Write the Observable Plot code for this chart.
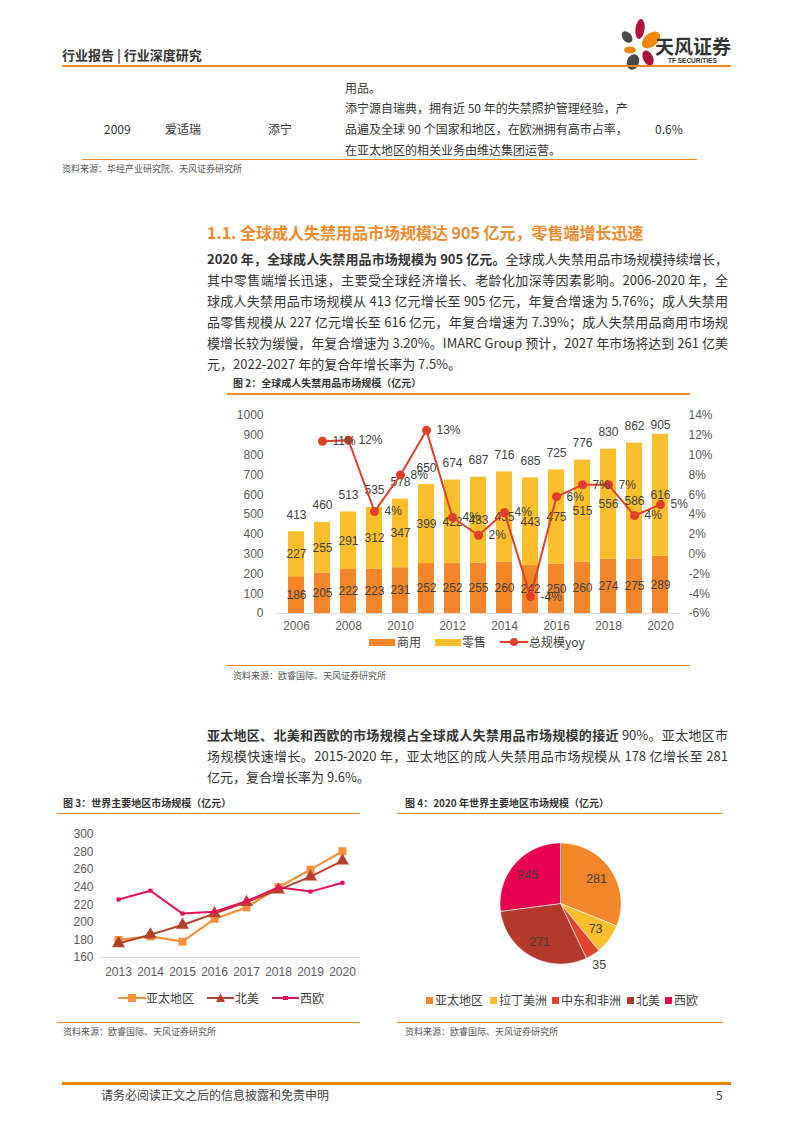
<!DOCTYPE html>
<html><head><meta charset="utf-8">
<script src="https://cdn.jsdelivr.net/npm/d3@7"></script>
<script src="https://cdn.jsdelivr.net/npm/@observablehq/plot@0.6"></script>
<style>
body{margin:0;background:#fff;}
#page{position:relative;width:793px;height:1122px;overflow:hidden;font-family:"Noto Sans CJK SC","Noto Sans",sans-serif;color:#333;background:#fff;}
.t{position:absolute;white-space:nowrap;}
.rule{position:absolute;background:#F0862A;}
.p{position:absolute;left:207px;width:521px;font-size:13px;line-height:21px;height:21px;text-align:justify;text-align-last:justify;white-space:nowrap;color:#333;}
.p.last{text-align-last:left;}
.tb{position:absolute;font-size:12px;line-height:21px;height:21px;white-space:nowrap;color:#333;}
.figt{position:absolute;font-size:10px;font-weight:bold;line-height:14px;color:#333;white-space:nowrap;}
.src{position:absolute;font-size:9px;line-height:12px;color:#555;white-space:nowrap;}
.chart{position:absolute;}
.lg{position:absolute;font-size:12px;line-height:14px;color:#404040;white-space:nowrap;}
.sw{position:absolute;}
</style></head>
<body><div id="page">

<!-- header -->
<div class="t" style="left:62px;top:46px;font-size:13px;font-weight:bold;line-height:18px;color:#333;">行业报告 | 行业深度研究</div>
<svg class="t" style="left:615px;top:15px;" width="45" height="60" viewBox="615 15 45 60">
  <ellipse cx="627" cy="37" rx="4.5" ry="6.5" transform="rotate(-40 627 37)" fill="#4a4a4a"/>
  <ellipse cx="640" cy="29" rx="4.5" ry="10" transform="rotate(8 640 29)" fill="#B0103A"/>
  <ellipse cx="651" cy="40" rx="6.5" ry="10.5" transform="rotate(50 651 40)" fill="#F0860A"/>
  <ellipse cx="630" cy="50" rx="6" ry="3.5" fill="#F0860A"/>
  <ellipse cx="648" cy="58" rx="5" ry="8" transform="rotate(-25 648 58)" fill="#B0103A"/>
  <ellipse cx="633" cy="62" rx="6" ry="8" transform="rotate(20 633 62)" fill="#4a4a4a"/>
</svg>
<div class="t" style="left:655px;top:34px;font-size:19px;font-weight:bold;line-height:24px;color:#333;">天风证券</div>
<div class="t" style="left:668px;top:57px;font-size:6.5px;font-weight:bold;line-height:8px;color:#333;font-family:'Liberation Sans',sans-serif;">TF SECURITIES</div>
<div class="rule" style="left:62px;top:65px;width:669px;height:2px;"></div>

<!-- table remnant -->
<div class="tb" style="left:345px;top:76.5px;">用品。</div>
<div class="tb" style="left:345px;top:96.5px;width:278px;text-align:justify;text-align-last:justify;">添宁源自瑞典，拥有近 50 年的失禁照护管理经验，产</div>
<div class="tb" style="left:104px;top:117.5px;">2009</div>
<div class="tb" style="left:165px;top:117.5px;">爱适瑞</div>
<div class="tb" style="left:268px;top:117.5px;">添宁</div>
<div class="tb" style="left:345px;top:117.5px;width:278px;text-align:justify;text-align-last:justify;">品遍及全球 90 个国家和地区，在欧洲拥有高市占率，</div>
<div class="tb" style="left:655px;top:117.5px;">0.6%</div>
<div class="tb" style="left:345px;top:138.5px;">在亚太地区的相关业务由维达集团运营。</div>
<div class="rule" style="left:82px;top:159px;width:615px;height:1px;"></div>
<div class="src" style="left:62px;top:163px;">资料来源：华经产业研究院、天风证券研究所</div>

<!-- section 1.1 -->
<div class="t" style="left:207px;top:221px;font-size:16px;font-weight:bold;line-height:22px;color:#F08A2C;">1.1. 全球成人失禁用品市场规模达 905 亿元，零售端增长迅速</div>
<div class="p" style="top:247.5px;"><b>2020 年，全球成人失禁用品市场规模为 905 亿元。</b>全球成人失禁用品市场规模持续增长，</div>
<div class="p" style="top:268.5px;">其中零售端增长迅速，主要受全球经济增长、老龄化加深等因素影响。2006-2020 年，全</div>
<div class="p" style="top:289.5px;">球成人失禁用品市场规模从 413 亿元增长至 905 亿元，年复合增速为 5.76%；成人失禁用</div>
<div class="p" style="top:310.5px;">品零售规模从 227 亿元增长至 616 亿元，年复合增速为 7.39%；成人失禁用品商用市场规</div>
<div class="p" style="top:331.5px;">模增长较为缓慢，年复合增速为 3.20%。IMARC Group  预计，2027 年市场将达到 261 亿美</div>
<div class="p last" style="top:352.5px;">元，2022-2027 年的复合年增长率为 7.5%。</div>

<!-- figure 2 -->
<div class="figt" style="left:233px;top:376px;">图 2：全球成人失禁用品市场规模（亿元）</div>
<div class="rule" style="left:227px;top:393px;width:463px;height:1.5px;"></div>
<div id="c2" class="chart" style="left:220px;top:405px;"></div>
<div class="sw" style="left:369px;top:638.5px;width:26px;height:7px;background:#F4862A;"></div>
<div class="lg" style="left:397px;top:635px;">商用</div>
<div class="sw" style="left:435px;top:638.5px;width:26px;height:7px;background:#FBBF2D;"></div>
<div class="lg" style="left:462px;top:635px;">零售</div>
<svg class="sw" style="left:500px;top:636px;" width="28" height="12"><line x1="0" y1="6" x2="28" y2="6" stroke="#E0402A" stroke-width="2"/><circle cx="14" cy="6" r="4" fill="#E0402A"/></svg>
<div class="lg" style="left:529px;top:635px;">总规模yoy</div>
<div class="rule" style="left:227px;top:664.5px;width:463px;height:1.5px;"></div>
<div class="src" style="left:233px;top:670px;">资料来源：欧睿国际、天风证券研究所</div>

<!-- paragraph 2 -->
<div class="p" style="top:723.5px;"><b>亚太地区、北美和西欧的市场规模占全球成人失禁用品市场规模的接近</b> 90%。亚太地区市</div>
<div class="p" style="top:744.5px;">场规模快速增长。2015-2020 年，亚太地区的成人失禁用品市场规模从 178 亿增长至 281</div>
<div class="p last" style="top:765.5px;">亿元，复合增长率为 9.6%。</div>

<!-- figure 3 -->
<div class="figt" style="left:63px;top:796px;">图 3：世界主要地区市场规模（亿元）</div>
<div class="rule" style="left:57px;top:812.5px;width:303px;height:1.5px;"></div>
<div id="c3" class="chart" style="left:50px;top:825px;"></div>
<svg class="sw" style="left:118px;top:992px;" width="28" height="12"><line x1="0" y1="6" x2="28" y2="6" stroke="#F5913A" stroke-width="2"/><rect x="10" y="2" width="8" height="8" fill="#F5913A"/></svg>
<div class="lg" style="left:146px;top:991px;">亚太地区</div>
<svg class="sw" style="left:207px;top:992px;" width="27" height="12"><line x1="0" y1="6" x2="27" y2="6" stroke="#B5412B" stroke-width="2"/><path d="M13.5,1.5 L18,10 L9,10 Z" fill="#B5412B"/></svg>
<div class="lg" style="left:235px;top:991px;">北美</div>
<svg class="sw" style="left:272px;top:992px;" width="27" height="12"><line x1="0" y1="6" x2="27" y2="6" stroke="#E5105A" stroke-width="2"/><rect x="11" y="4" width="5" height="4" fill="#E5105A"/></svg>
<div class="lg" style="left:300px;top:991px;">西欧</div>
<div class="rule" style="left:57px;top:1021.5px;width:303px;height:1.5px;"></div>
<div class="src" style="left:63px;top:1026px;">资料来源：欧睿国际、天风证券研究所</div>

<!-- figure 4 -->
<div class="figt" style="left:405px;top:796px;">图 4：2020 年世界主要地区市场规模（亿元）</div>
<div class="rule" style="left:397px;top:812.5px;width:326px;height:1.5px;"></div>
<div id="c4" class="chart" style="left:469.5px;top:833px;"></div>
<div id="lg4"></div>
<div class="rule" style="left:397px;top:1021.5px;width:326px;height:1.5px;"></div>
<div class="src" style="left:405px;top:1026px;">资料来源：欧睿国际、天风证券研究所</div>

<!-- footer -->
<div class="rule" style="left:62px;top:1082px;width:669px;height:3px;background:#E8890C;"></div>
<div class="t" style="left:101px;top:1087px;font-size:12px;line-height:16px;color:#404040;">请务必阅读正文之后的信息披露和免责申明</div>
<div class="t" style="left:716px;top:1087px;font-size:12px;line-height:16px;color:#404040;">5</div>

</div>
<script>
// ===== Figure 2 data =====
const years = [2006,2007,2008,2009,2010,2011,2012,2013,2014,2015,2016,2017,2018,2019,2020];
const commercial = [186,205,222,223,231,252,252,255,260,242,250,260,274,275,289];
const retail = [227,255,291,312,347,399,422,433,455,443,475,515,556,586,616];
const totals = [413,460,513,535,578,650,674,687,716,685,725,776,830,862,905];
const yoyPct = [null,11.4,11.5,4.3,8.0,12.5,3.7,1.9,4.2,-4.3,5.8,7.0,7.0,3.9,5.0];
const yoyLabels = ["","11%","12%","4%","8%","13%","4%","2%","4%","-4%","6%","7%","7%","4%","5%"];
const leftTicks = [0,100,200,300,400,500,600,700,800,900,1000];
const rightTickLabels = ["-6%","-4%","-2%","0%","2%","4%","6%","8%","10%","12%","14%"];

// ===== Figure 3 data =====
const regionYears = [2013,2014,2015,2016,2017,2018,2019,2020];
const apac = [180,184,178,204,217,240,260,281];
const northAmerica = [176,186,197,210,223,237,252,270];
const westEurope = [226,236,210,212,224,240,235,245];
const lineTicks = [160,180,200,220,240,260,280,300];

// ===== Figure 4 data =====
const pieRegions = ["亚太地区","拉丁美洲","中东和非洲","北美","西欧"];
const pieValues = [281,73,35,271,245];

const labelFill = "#404040";
const axisStyle = {fontFamily:"'Liberation Sans', Arial, sans-serif", fontSize:"12px", color:"#595959", background:"transparent", overflow:"visible"};

// ---- Figure 2 ----
const stacked = years.flatMap((yr,i)=>[
  {year:yr, type:"商用", value:commercial[i]},
  {year:yr, type:"零售", value:retail[i]}
]);
const totalData = years.map((yr,i)=>({year:yr, total:totals[i]}));
const yoyData = years.map((yr,i)=>({year:yr, p:yoyPct[i], label:yoyLabels[i]})).filter(d=>d.p!==null);
// right axis (-6%..14%) mapped onto left axis domain (0..1000)
const toLeft = p => (p + 6) * 50;

const c2 = Plot.plot({
  width:490, height:230, marginLeft:56, marginRight:30, marginTop:10, marginBottom:22,
  style:axisStyle,
  x:{type:"band", domain:years, paddingInner:0.38, paddingOuter:0.21, axis:null, label:null},
  y:{domain:[0,1000], axis:null, label:null},
  color:{domain:["商用","零售"], range:["#F4862A","#FBBF2D"]},
  marks:[
    Plot.barY(stacked, {x:"year", y:"value", fill:"type"}),
    Plot.ruleY([0], {stroke:"#d9d9d9"}),
    Plot.axisX({tickSize:0, tickPadding:8, tickFormat:d => d % 2 === 0 ? String(d) : "", label:null}),
    Plot.axisY(leftTicks, {anchor:"left", tickSize:0, tickPadding:13, label:null, tickFormat:d=>String(d)}),
    Plot.axisY(leftTicks, {anchor:"right", tickSize:0, tickPadding:8, label:null, tickFormat:d=>rightTickLabels[leftTicks.indexOf(d)]}),
    Plot.text(stacked, Plot.stackY({x:"year", y:"value", z:"type", text:d=>String(d.value), fill:labelFill})),
    Plot.text(totalData.filter(d=>d.year!==2020), {x:"year", y:"total", text:d=>String(d.total), dy:-17, fill:labelFill}),
    Plot.text(totalData.filter(d=>d.year===2020), {x:"year", y:"total", text:d=>String(d.total), dy:-9, fill:labelFill}),
    Plot.line(yoyData, {x:"year", y:d=>toLeft(d.p), stroke:"#E0402A", strokeWidth:2}),
    Plot.dot(yoyData, {x:"year", y:d=>toLeft(d.p), r:4.5, fill:"#E0402A"}),
    Plot.text(yoyData, {x:"year", y:d=>toLeft(d.p), text:"label", dx:10, textAnchor:"start", fill:labelFill})
  ]
});
document.getElementById("c2").appendChild(c2);

// ---- Figure 3 ----
const mk = (name, arr) => regionYears.map((yr,i)=>({year:yr, region:name, v:arr[i]}));
const dApac = mk("亚太地区", apac), dNA = mk("北美", northAmerica), dWE = mk("西欧", westEurope);
const c3 = Plot.plot({
  width:320, height:160, marginLeft:50, marginRight:10, marginTop:9, marginBottom:28,
  style:axisStyle,
  x:{type:"point", domain:regionYears, padding:0.5, axis:null, label:null},
  y:{domain:[160,300], axis:null, label:null},
  marks:[
    Plot.ruleY([160], {stroke:"#d9d9d9"}),
    Plot.axisY(lineTicks, {anchor:"left", tickSize:0, tickPadding:7, label:null, tickFormat:d=>String(d)}),
    Plot.axisX({tickSize:0, tickPadding:10, label:null, tickFormat:d=>String(d)}),
    Plot.line(dApac, {x:"year", y:"v", stroke:"#F5913A", strokeWidth:2.2}),
    Plot.dot(dApac, {x:"year", y:"v", symbol:"square", r:4.5, fill:"#F5913A"}),
    Plot.line(dNA, {x:"year", y:"v", stroke:"#B5412B", strokeWidth:2}),
    Plot.dot(dNA, {x:"year", y:"v", symbol:"triangle", r:4.8, fill:"#B5412B"}),
    Plot.line(dWE, {x:"year", y:"v", stroke:"#E5105A", strokeWidth:2}),
    Plot.dot(dWE, {x:"year", y:"v", symbol:"square", r:2.3, fill:"#E5105A"})
  ]
});
document.getElementById("c3").appendChild(c3);

// ---- Figure 4 ----
const pieColors = ["#F4862A","#FBBF2D","#E0442A","#B33A2A","#E6004F"];
const arcs = d3.pie().sort(null)(pieValues);
const total4 = d3.sum(pieValues);
const outline = [];
arcs.forEach((a,i)=>{
  const n = Math.max(2, Math.ceil((a.endAngle - a.startAngle) / 0.01));
  outline.push({region:pieRegions[i], x:0, y:0, k:0});
  for (let j=0;j<=n;j++){
    const t = a.startAngle + (a.endAngle - a.startAngle) * j / n;
    outline.push({region:pieRegions[i], x:Math.sin(t), y:Math.cos(t), k:j+1});
  }
  outline.push({region:pieRegions[i], x:0, y:0, k:n+2});
});
const pieLabels = arcs.map((a,i)=>{
  const mid = (a.startAngle + a.endAngle)/2;
  const rr = pieValues[i]/total4 < 0.05 ? 1.2 : 0.72;
  return {x:Math.sin(mid)*rr, y:Math.cos(mid)*rr, text:String(pieValues[i])};
});
const c4 = Plot.plot({
  width:180, height:140, margin:0,
  style:axisStyle,
  x:{domain:[-90/60.5, 90/60.5], axis:null},
  y:{domain:[-70/60.5, 70/60.5], axis:null},
  color:{domain:pieRegions, range:pieColors},
  marks:[
    Plot.line(outline, {x:"x", y:"y", z:"region", fill:"region", stroke:"#fff", strokeWidth:0.6, curve:"linear-closed"}),
    Plot.text(pieLabels, {x:"x", y:"y", text:"text", fill:labelFill, fontSize:12.5})
  ]
});
document.getElementById("c4").appendChild(c4);

// pie legend (HTML)
const lgPos = [426, 490, 552, 627, 665];
const lg4 = document.getElementById("lg4");
pieRegions.forEach((r,i)=>{
  const s = document.createElement("div");
  s.className = "sw";
  s.style.cssText = `left:${lgPos[i]}px;top:996.5px;width:7px;height:7px;background:${pieColors[i]};`;
  lg4.appendChild(s);
  const t = document.createElement("div");
  t.className = "lg";
  t.style.cssText = `left:${lgPos[i]+9}px;top:993px;`;
  t.textContent = r;
  lg4.appendChild(t);
});
</script>
</body></html>
